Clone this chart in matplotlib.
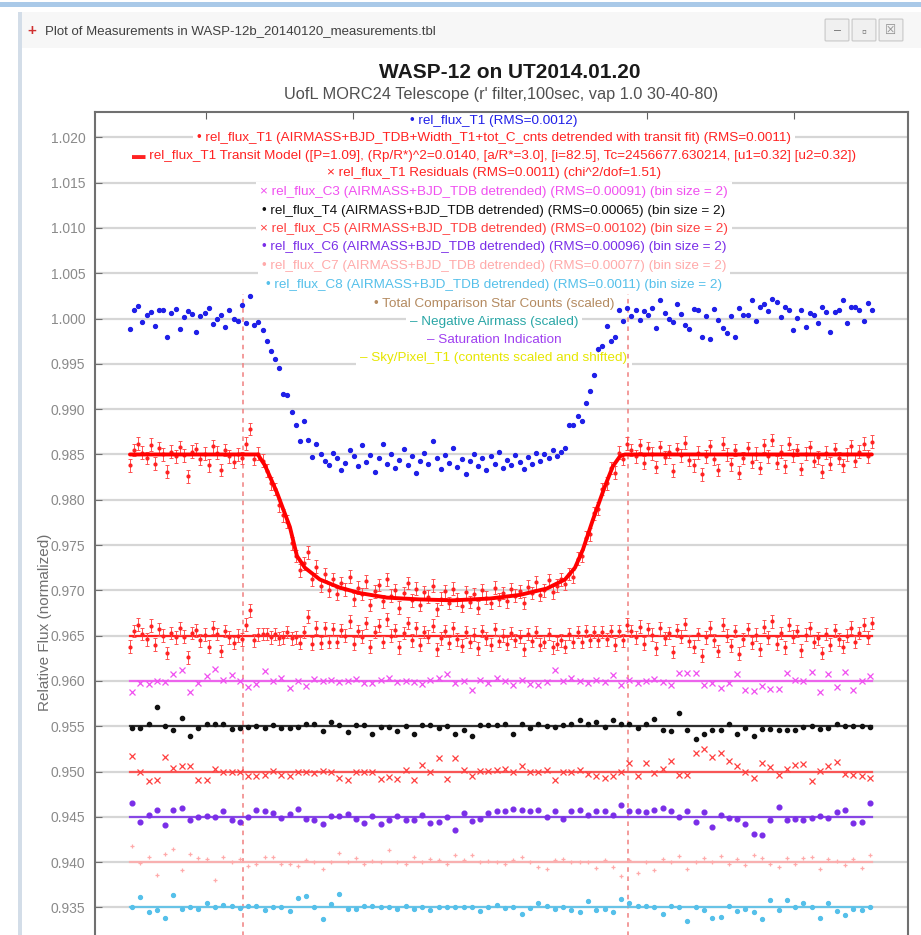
import numpy as np
import matplotlib
matplotlib.use("Agg")
import matplotlib.pyplot as plt
from matplotlib.patches import Rectangle, FancyBboxPatch

plt.rcParams['font.family'] = ['Liberation Sans', 'DejaVu Sans']

# ------------------------------------------------------------------ data
window_title = "Plot of Measurements in WASP-12b_20140120_measurements.tbl"
title = "WASP-12 on UT2014.01.20"
subtitle = "UofL MORC24 Telescope (r' filter,100sec, vap 1.0 30-40-80)"
y_label = "Relative Flux (normalized)"

x_ticks = [0.55, 0.60, 0.65, 0.70, 0.75]
y_ticks = [0.935, 0.940, 0.945, 0.950, 0.955, 0.960, 0.965, 0.970, 0.975,
           0.980, 0.985, 0.990, 0.995, 1.000, 1.005, 1.010, 1.015, 1.020]
y_tick_labels = ["0.935", "0.940", "0.945", "0.950", "0.955", "0.960", "0.965",
                 "0.970", "0.975", "0.980", "0.985", "0.990", "0.995", "1.000",
                 "1.005", "1.010", "1.015", "1.020"]

t_first, t_last = 0.5241, 0.7765          # unbinned exposures
tb_first, tb_last = 0.5248, 0.7758        # bin size = 2
marker_left, marker_right = 0.5625, 0.6935
marker_top = 1.0027

blue_flux = [
    0.9988, 1.0009, 1.0014, 0.9996, 1.0004, 1.0007, 0.9992, 1.0010, 1.0010, 0.9980,
    1.0006, 1.0011, 0.9989, 1.0002, 1.0008, 1.0005, 0.9985, 1.0003, 1.0006, 1.0012,
    0.9994, 1.0000, 1.0004, 0.9991, 1.0010, 1.0000, 0.9997, 1.0015, 0.9995, 1.0025,
    0.9993,
    0.9996, 0.9987, 0.9975, 0.9964, 0.9955, 0.9945, 0.9917, 0.9916, 0.9897, 0.9882,
    0.9865,
    0.9887, 0.9866, 0.9847, 0.9862, 0.9850, 0.9843, 0.9838, 0.9852, 0.9846, 0.9833,
    0.9841, 0.9855, 0.9848, 0.9837, 0.9860, 0.9842, 0.9849, 0.9831, 0.9846, 0.9862,
    0.9840, 0.9851, 0.9835, 0.9844, 0.9856, 0.9838, 0.9848, 0.9830, 0.9843, 0.9852,
    0.9839, 0.9865, 0.9846, 0.9834, 0.9849, 0.9841, 0.9857, 0.9836, 0.9845, 0.9828,
    0.9843, 0.9850, 0.9837, 0.9846, 0.9833, 0.9848, 0.9840, 0.9853, 0.9835, 0.9844,
    0.9838, 0.9849, 0.9842, 0.9834, 0.9847, 0.9839, 0.9852, 0.9843, 0.9850, 0.9846,
    0.9855, 0.9848, 0.9853, 0.9857,
    0.9882, 0.9882, 0.9892, 0.9887, 0.9907, 0.9920, 0.9938, 0.9966, 0.9970, 0.9992,
    0.9975, 0.9980, 1.0009, 0.9997, 1.0012,
    1.0003, 1.0010, 0.9998, 1.0008, 1.0004, 1.0012, 0.9990, 1.0020, 1.0006, 0.9999,
    0.9996, 1.0016, 1.0005, 0.9993, 0.9989, 1.0011, 1.0009, 0.9980, 1.0003, 0.9978,
    1.0011, 0.9998, 0.9990, 0.9984, 1.0003, 0.9980, 1.0012, 1.0004, 1.0004, 1.0020,
    0.9997, 1.0013, 1.0016, 1.0008, 1.0022, 1.0018, 1.0002, 1.0013, 1.0009, 0.9987,
    1.0001, 1.0010, 0.9991, 1.0006, 1.0004, 0.9995, 1.0013, 1.0007, 0.9985, 1.0007,
    1.0010, 1.0020, 0.9995, 1.0013, 1.0013, 1.0010, 0.9997, 1.0017, 1.0010,
]

det_flux = [
    0.9838, 0.9855, 0.9862, 0.9852, 0.9846, 0.9861, 0.9840, 0.9857, 0.9850, 0.9831,
    0.9853, 0.9848, 0.9858, 0.9849, 0.9826, 0.9853, 0.9856, 0.9845, 0.9851, 0.9838,
    0.9859, 0.9852, 0.9833, 0.9855, 0.9848, 0.9842, 0.9850, 0.9846, 0.9862, 0.9878,
    0.9845, 0.9851,
    0.9843, 0.9832, 0.9818, 0.9812, 0.9794, 0.9783, 0.9776, 0.9752, 0.9738, 0.9722,
    0.9730, 0.9742, 0.9712, 0.9726, 0.9705, 0.9718, 0.9700, 0.9712, 0.9696, 0.9708,
    0.9701, 0.9715, 0.9690, 0.9703, 0.9696, 0.9710, 0.9684, 0.9699, 0.9706, 0.9688,
    0.9712, 0.9694, 0.9700, 0.9681, 0.9697, 0.9708, 0.9689, 0.9702, 0.9684, 0.9698,
    0.9693, 0.9705, 0.9679, 0.9691, 0.9699, 0.9686, 0.9702, 0.9690, 0.9683, 0.9698,
    0.9687, 0.9696, 0.9681, 0.9700, 0.9692, 0.9686, 0.9703, 0.9690, 0.9697, 0.9688,
    0.9701, 0.9694, 0.9699, 0.9686, 0.9704, 0.9697, 0.9709, 0.9695, 0.9700, 0.9711,
    0.9698, 0.9705, 0.9712, 0.9707,
    0.9718, 0.9715, 0.9735, 0.9738, 0.9758, 0.9762, 0.9785, 0.9790, 0.9812, 0.9818,
    0.9835, 0.9830, 0.9852, 0.9845,
    0.9862, 0.9855, 0.9848, 0.9860, 0.9841, 0.9857, 0.9851, 0.9836, 0.9858, 0.9847,
    0.9853, 0.9832, 0.9856, 0.9849, 0.9863, 0.9844, 0.9838, 0.9852, 0.9828, 0.9848,
    0.9859, 0.9845, 0.9833, 0.9862, 0.9850, 0.9839, 0.9855, 0.9830, 0.9846, 0.9857,
    0.9842, 0.9851, 0.9835, 0.9860, 0.9848, 0.9866, 0.9841, 0.9853, 0.9837, 0.9862,
    0.9849, 0.9855, 0.9834, 0.9851, 0.9858, 0.9843, 0.9847, 0.9831, 0.9852, 0.9840,
    0.9856, 0.9846, 0.9838, 0.9850, 0.9859, 0.9843, 0.9853, 0.9862, 0.9848, 0.9864,
]
det_err = 0.0007

model_t = [0.5241, 0.5676, 0.5700, 0.5741, 0.5785, 0.5809, 0.5836, 0.5887,
           0.5955, 0.6023, 0.6115, 0.6227, 0.6340, 0.6466, 0.6568, 0.6659,
           0.6721, 0.6755, 0.6782, 0.6816, 0.6857, 0.6884, 0.6908, 0.6925, 0.7765]
model_f = [0.9850, 0.9850, 0.9838, 0.9808, 0.9770, 0.9738, 0.9725, 0.9712,
           0.9703, 0.9697, 0.9692, 0.9690, 0.9689, 0.9691, 0.9695, 0.9702,
           0.9712, 0.9725, 0.9745, 0.9778, 0.9815, 0.9837, 0.9848, 0.9850, 0.9850]

resid_flux = [
    0.9638, 0.9655, 0.9662, 0.9652, 0.9646, 0.9661, 0.9640, 0.9657, 0.9650, 0.9631,
    0.9653, 0.9648, 0.9658, 0.9649, 0.9626, 0.9653, 0.9656, 0.9645, 0.9651, 0.9638,
    0.9659, 0.9652, 0.9633, 0.9655, 0.9648, 0.9642, 0.9650, 0.9646, 0.9662, 0.9678,
    0.9645, 0.9651,
    0.9652, 0.9652, 0.9648, 0.9652, 0.9647, 0.9648, 0.9654, 0.9647, 0.9648, 0.9642,
    0.9654, 0.9671, 0.9641, 0.9659, 0.9642, 0.9658, 0.9643, 0.9657, 0.9643, 0.9656,
    0.9650, 0.9666, 0.9641, 0.9655, 0.9649, 0.9664, 0.9638, 0.9654, 0.9661, 0.9643,
    0.9668, 0.9650, 0.9656, 0.9637, 0.9653, 0.9664, 0.9645, 0.9658, 0.9640, 0.9654,
    0.9649, 0.9661, 0.9635, 0.9647, 0.9655, 0.9642, 0.9658, 0.9646, 0.9639, 0.9654,
    0.9643, 0.9651, 0.9636, 0.9655, 0.9647, 0.9640, 0.9657, 0.9644, 0.9650, 0.9641,
    0.9653, 0.9645, 0.9649, 0.9635, 0.9652, 0.9644, 0.9654, 0.9640, 0.9643, 0.9652,
    0.9637, 0.9641, 0.9645, 0.9638,
    0.9652, 0.9643, 0.9654, 0.9643, 0.9655, 0.9645, 0.9654, 0.9645, 0.9654, 0.9646,
    0.9655, 0.9640, 0.9655, 0.9645,
    0.9662, 0.9655, 0.9648, 0.9660, 0.9641, 0.9657, 0.9651, 0.9636, 0.9658, 0.9647,
    0.9653, 0.9632, 0.9656, 0.9649, 0.9663, 0.9644, 0.9638, 0.9652, 0.9628, 0.9648,
    0.9659, 0.9645, 0.9633, 0.9662, 0.9650, 0.9639, 0.9655, 0.9630, 0.9646, 0.9657,
    0.9642, 0.9651, 0.9635, 0.9660, 0.9648, 0.9666, 0.9641, 0.9653, 0.9637, 0.9662,
    0.9649, 0.9655, 0.9634, 0.9651, 0.9658, 0.9643, 0.9647, 0.9631, 0.9652, 0.9640,
    0.9656, 0.9646, 0.9638, 0.9650, 0.9659, 0.9643, 0.9653, 0.9662, 0.9648, 0.9664,
]
resid_err = 0.0007
resid_level = 0.965

c3_flux = [
    0.9588, 0.9598, 0.9597, 0.9600, 0.9599, 0.9608, 0.9612, 0.9588, 0.9598, 0.9606,
    0.9613, 0.9601, 0.9607, 0.9600, 0.9593, 0.9597, 0.9611, 0.9600, 0.9603, 0.9592,
    0.9600, 0.9594, 0.9602, 0.9600, 0.9601, 0.9599, 0.9600, 0.9602, 0.9598, 0.9598,
    0.9601, 0.9603, 0.9599, 0.9600, 0.9599, 0.9597, 0.9601, 0.9603, 0.9608, 0.9598,
    0.9600, 0.9590, 0.9601, 0.9598, 0.9603, 0.9600, 0.9596, 0.9601, 0.9597, 0.9595,
    0.9599, 0.9612, 0.9600, 0.9603, 0.9600, 0.9598, 0.9601, 0.9599, 0.9607, 0.9596,
    0.9601, 0.9598, 0.9600, 0.9602, 0.9599, 0.9595, 0.9609, 0.9609, 0.9609, 0.9595,
    0.9598, 0.9592, 0.9598, 0.9608, 0.9590, 0.9589, 0.9594, 0.9591, 0.9591, 0.9609,
    0.9601, 0.9600, 0.9610, 0.9588, 0.9608, 0.9593, 0.9610, 0.9590, 0.9600, 0.9606,
]
t4_flux = [
    0.9548, 0.9548, 0.9552, 0.9571, 0.9550, 0.9546, 0.9559, 0.9539, 0.9548, 0.9553,
    0.9553, 0.9553, 0.9547, 0.9548, 0.9549, 0.9550, 0.9548, 0.9551, 0.9548, 0.9548,
    0.9549, 0.9552, 0.9552, 0.9545, 0.9555, 0.9551, 0.9544, 0.9551, 0.9551, 0.9541,
    0.9549, 0.9549, 0.9545, 0.9550, 0.9541, 0.9551, 0.9551, 0.9548, 0.9550, 0.9542,
    0.9546, 0.9539, 0.9551, 0.9551, 0.9551, 0.9552, 0.9541, 0.9553, 0.9548, 0.9553,
    0.9550, 0.9549, 0.9551, 0.9552, 0.9557, 0.9553, 0.9555, 0.9549, 0.9557, 0.9553,
    0.9552, 0.9548, 0.9552, 0.9558, 0.9546, 0.9545, 0.9565, 0.9546, 0.9536, 0.9541,
    0.9546, 0.9546, 0.9552, 0.9541, 0.9548, 0.9539, 0.9547, 0.9547, 0.9546, 0.9546,
    0.9546, 0.9549, 0.9550, 0.9547, 0.9548, 0.9553, 0.9550, 0.9550, 0.9550, 0.9549,
]
c5_flux = [
    0.9517, 0.9499, 0.9490, 0.9491, 0.9516, 0.9504, 0.9506, 0.9506, 0.9491, 0.9491,
    0.9503, 0.9500, 0.9499, 0.9500, 0.9495, 0.9495, 0.9496, 0.9501, 0.9496, 0.9495,
    0.9500, 0.9500, 0.9498, 0.9501, 0.9499, 0.9493, 0.9491, 0.9500, 0.9499, 0.9499,
    0.9492, 0.9494, 0.9492, 0.9502, 0.9491, 0.9507, 0.9500, 0.9515, 0.9492, 0.9515,
    0.9502, 0.9495, 0.9501, 0.9501, 0.9502, 0.9503, 0.9500, 0.9506, 0.9500, 0.9500,
    0.9502, 0.9491, 0.9500, 0.9499, 0.9502, 0.9497, 0.9495, 0.9493, 0.9495, 0.9500,
    0.9509, 0.9495, 0.9510, 0.9498, 0.9503, 0.9512, 0.9496, 0.9496, 0.9520, 0.9525,
    0.9516, 0.9520, 0.9512, 0.9506, 0.9499, 0.9493, 0.9510, 0.9505, 0.9496, 0.9503,
    0.9507, 0.9508, 0.9490, 0.9501, 0.9506, 0.9511, 0.9497, 0.9496, 0.9495, 0.9493,
]
c6_flux = [
    0.9465, 0.9444, 0.9452, 0.9458, 0.9441, 0.9458, 0.9460, 0.9447, 0.9450, 0.9451,
    0.9450, 0.9457, 0.9446, 0.9444, 0.9450, 0.9458, 0.9457, 0.9454, 0.9449, 0.9453,
    0.9459, 0.9448, 0.9447, 0.9442, 0.9451, 0.9451, 0.9453, 0.9448, 0.9443, 0.9451,
    0.9442, 0.9446, 0.9451, 0.9446, 0.9446, 0.9452, 0.9443, 0.9444, 0.9450, 0.9435,
    0.9454, 0.9445, 0.9448, 0.9454, 0.9456, 0.9457, 0.9459, 0.9458, 0.9456, 0.9458,
    0.9450, 0.9456, 0.9448, 0.9457, 0.9458, 0.9452, 0.9457, 0.9456, 0.9452, 0.9463,
    0.9456, 0.9456, 0.9455, 0.9458, 0.9460, 0.9456, 0.9450, 0.9456, 0.9444, 0.9455,
    0.9439, 0.9452, 0.9449, 0.9448, 0.9442, 0.9431, 0.9430, 0.9447, 0.9461, 0.9447,
    0.9448, 0.9446, 0.9449, 0.9451, 0.9449, 0.9455, 0.9458, 0.9443, 0.9444, 0.9465,
]
c7_flux = [
    0.9418, 0.9399, 0.9406, 0.9386, 0.9409, 0.9415, 0.9391, 0.9409, 0.9405, 0.9404,
    0.9380, 0.9406, 0.9400, 0.9404, 0.9396, 0.9398, 0.9406, 0.9406, 0.9398, 0.9398,
    0.9396, 0.9402, 0.9400, 0.9393, 0.9400, 0.9410, 0.9400, 0.9405, 0.9398, 0.9401,
    0.9400, 0.9413, 0.9400, 0.9398, 0.9406, 0.9400, 0.9404, 0.9402, 0.9398, 0.9408,
    0.9402, 0.9408, 0.9400, 0.9401, 0.9400, 0.9398, 0.9402, 0.9406, 0.9400, 0.9395,
    0.9393, 0.9402, 0.9404, 0.9400, 0.9400, 0.9400, 0.9394, 0.9402, 0.9395, 0.9385,
    0.9402, 0.9388, 0.9400, 0.9391, 0.9403, 0.9400, 0.9407, 0.9392, 0.9400, 0.9405,
    0.9400, 0.9407, 0.9398, 0.9404, 0.9397, 0.9408, 0.9405, 0.9398, 0.9395, 0.9405,
    0.9398, 0.9405, 0.9406, 0.9393, 0.9404, 0.9401, 0.9397, 0.9403, 0.9394, 0.9408,
]
c8_flux = [
    0.9350, 0.9362, 0.9345, 0.9347, 0.9338, 0.9364, 0.9348, 0.9351, 0.9348, 0.9355,
    0.9350, 0.9353, 0.9352, 0.9349, 0.9352, 0.9352, 0.9347, 0.9351, 0.9350, 0.9346,
    0.9360, 0.9363, 0.9350, 0.9337, 0.9354, 0.9365, 0.9348, 0.9348, 0.9352, 0.9352,
    0.9350, 0.9350, 0.9348, 0.9352, 0.9348, 0.9350, 0.9347, 0.9350, 0.9350, 0.9350,
    0.9351, 0.9351, 0.9346, 0.9350, 0.9353, 0.9349, 0.9350, 0.9343, 0.9349, 0.9355,
    0.9352, 0.9348, 0.9350, 0.9347, 0.9345, 0.9357, 0.9347, 0.9348, 0.9345, 0.9359,
    0.9355, 0.9352, 0.9352, 0.9350, 0.9343, 0.9352, 0.9350, 0.9335, 0.9350, 0.9347,
    0.9338, 0.9340, 0.9352, 0.9346, 0.9348, 0.9345, 0.9337, 0.9358, 0.9347, 0.9358,
    0.9350, 0.9355, 0.9350, 0.9338, 0.9355, 0.9346, 0.9342, 0.9348, 0.9347, 0.9350,
]
comp_levels = [0.960, 0.955, 0.950, 0.945, 0.940, 0.935]

legend_labels = [
    "rel_flux_T1 (RMS=0.0012)",
    "rel_flux_T1 (AIRMASS+BJD_TDB+Width_T1+tot_C_cnts detrended with transit fit) (RMS=0.0011)",
    "rel_flux_T1 Transit Model ([P=1.09], (Rp/R*)^2=0.0140, [a/R*=3.0], [i=82.5], Tc=2456677.630214, [u1=0.32] [u2=0.32])",
    "rel_flux_T1 Residuals (RMS=0.0011) (chi^2/dof=1.51)",
    "rel_flux_C3 (AIRMASS+BJD_TDB detrended) (RMS=0.00091) (bin size = 2)",
    "rel_flux_T4 (AIRMASS+BJD_TDB detrended) (RMS=0.00065) (bin size = 2)",
    "rel_flux_C5 (AIRMASS+BJD_TDB detrended) (RMS=0.00102) (bin size = 2)",
    "rel_flux_C6 (AIRMASS+BJD_TDB detrended) (RMS=0.00096) (bin size = 2)",
    "rel_flux_C7 (AIRMASS+BJD_TDB detrended) (RMS=0.00077) (bin size = 2)",
    "rel_flux_C8 (AIRMASS+BJD_TDB detrended) (RMS=0.0011) (bin size = 2)",
    "Total Comparison Star Counts (scaled)",
    "Negative Airmass (scaled)",
    "Saturation Indication",
    "Sky/Pixel_T1 (contents scaled and shifted)",
]
legend_symbols = ["•", "•", "▬", "×", "×", "•", "×", "•", "•", "•", "•", "–", "–", "–"]

# ------------------------------------------------------------------ styles
C_BLUE = "#1f1fe8"
C_RED = "#ff2222"
C_MAG = "#f050f0"
C_BLACK = "#111111"
C_RED2 = "#ff4040"
C_PURP = "#7a2ee8"
C_PINK = "#ffaaaa"
C_LBLUE = "#55c0ea"
legend_colors = [C_BLUE, C_RED, C_RED, C_RED, C_MAG, C_BLACK, C_RED2, C_PURP,
                 C_PINK, C_LBLUE, "#b48a60", "#2aa6a6", "#a040f0", "#e6e600"]

W, H = 921, 935
fig = plt.figure(figsize=(W / 100, H / 100), dpi=100)
fig.patch.set_facecolor("white")


def fx(x):
    return x / W


def fy(y):
    return 1 - y / H


def frect(x0, y0, x1, y1, **kw):
    fig.add_artist(Rectangle((fx(x0), fy(y1)), fx(x1) - fx(x0), fy(y0) - fy(y1),
                             transform=fig.transFigure, **kw))


# window chrome
frect(0, 2, W, 7, facecolor="#a9c9e8", edgecolor="none")
frect(20, 12, W, 48, facecolor="#f7f7f7", edgecolor="none")
frect(18, 12, 22, H, facecolor="#d3dde8", edgecolor="none")
fig.text(fx(32), fy(31), "+", color="#d03030", fontsize=11, ha="center", va="center",
         fontweight="bold")
fig.text(fx(45), fy(31), window_title, color="#404040", fontsize=9.5, ha="left",
         va="center")
for bx in (826, 853, 880):
    fig.add_artist(FancyBboxPatch((fx(bx), fy(40)), fx(22), 20 / H,
                                  boxstyle="round,pad=0.001", transform=fig.transFigure,
                                  facecolor="#f0f0f0", edgecolor="#c8c8c8", lw=0.8))
fig.text(fx(837), fy(31), "–", color="#707070", fontsize=9, ha="center", va="center")
fig.text(fx(864), fy(31), "▫", color="#707070", fontsize=10, ha="center", va="center")
fig.text(fx(891), fy(31), "☒", color="#909090", fontsize=9, ha="center", va="center")

fig.text(fx(510), fy(73), title, fontsize=15, fontweight="bold", color="#1a1a1a",
         ha="center", va="center")
fig.text(fx(501), fy(95), subtitle, fontsize=11.8, color="#505050",
         ha="center", va="center")

# axes: bottom part lies below the visible window
ax_left, ax_right, ax_top = 95, 908, 112
y_min, y_max = 0.925, 1.0228
px_per_unit = 45.3 / 0.005
ax_bottom_px = ax_top + (y_max - y_min) * px_per_unit
ax = fig.add_axes([fx(ax_left), fy(ax_bottom_px), fx(ax_right - ax_left),
                   (ax_bottom_px - ax_top) / H])
ax.set_xlim(0.5122, 0.7888)
ax.set_ylim(y_min, y_max)
ax.set_facecolor("white")

ax.set_yticks(y_ticks)
ax.set_yticklabels(y_tick_labels)
ax.set_xticks(x_ticks)
ax.xaxis.tick_top()
ax.tick_params(axis="x", direction="in", length=5, color="#606060", labeltop=False,
               labelbottom=False, top=True, bottom=False)
ax.tick_params(axis="y", direction="in", length=5, color="#707070", labelsize=10,
               labelcolor="#8a8a8a", pad=7, right=False)
ax.yaxis.grid(True, color="#d6d6d6", lw=1.6)
ax.set_axisbelow(True)
for s in ax.spines.values():
    s.set_color("#707070")
    s.set_linewidth(1.5)
fig.text(fx(45), fy(622), y_label, fontsize=11, color="#707070", rotation=90,
         ha="center", va="center")

t = np.linspace(t_first, t_last, len(blue_flux))
t_det = np.linspace(t_first, t_last, len(det_flux))
t_res = np.linspace(t_first, t_last, len(resid_flux))

# legend lines (centred text with white background, above grid, below data)
leg_y = [121, 138, 156, 173, 192, 211, 229, 247, 266, 285, 304, 322, 340, 358]
for lab, sym, col, yy in zip(legend_labels, legend_symbols, legend_colors, leg_y):
    ax.text(fx(494), fy(yy), sym + " " + lab, color=col, fontsize=9.7,
            ha="center", va="center", zorder=1.5, transform=fig.transFigure,
            clip_on=False,
            bbox=dict(boxstyle="square,pad=0.3", facecolor="white", edgecolor="none"))

# marker lines
for xm in (marker_left, marker_right):
    ax.plot([xm, xm], [y_min, marker_top], color="#f08080", lw=1.1,
            ls=(0, (3, 3)), zorder=2)

# comparison stars
comp_sets = [
    (c3_flux, C_MAG, "x", 4.0, 0.9),
    (t4_flux, C_BLACK, "o", 3.0, 0),
    (c5_flux, C_RED2, "x", 4.0, 0.9),
    (c6_flux, C_PURP, "o", 3.4, 0),
    (c7_flux, C_PINK, "+", 3.5, 0.9),
    (c8_flux, C_LBLUE, "o", 2.8, 0),
]
for (vals, col, mk, ms, mew), lvl in zip(comp_sets, comp_levels):
    ax.plot([t_first, t_last], [lvl, lvl], color=col, lw=1.6, zorder=3, alpha=0.85)
    tb_i = np.linspace(tb_first, tb_last, len(vals))
    if mk == "o":
        ax.plot(tb_i, vals, ls="none", marker="o", ms=ms, color=col, mec=col, zorder=4)
    else:
        ax.plot(tb_i, vals, ls="none", marker=mk, ms=ms, mew=mew, color=col, zorder=4)

# residuals
ax.plot([t_first, t_last], [resid_level, resid_level], color=C_RED, lw=1.6, zorder=3)
ax.errorbar(t_res, resid_flux, yerr=resid_err, fmt="o", ms=2.0, color=C_RED,
            ecolor="#ff5050", elinewidth=0.7, capsize=1.5, capthick=0.7, zorder=4)

# detrended data + model
ax.errorbar(t_det, det_flux, yerr=det_err, fmt="o", ms=2.0, color=C_RED,
            ecolor="#ff5050", elinewidth=0.7, capsize=1.5, capthick=0.7, zorder=4)
ax.plot(model_t, model_f, color="#ff0000", lw=2.8, zorder=5, solid_capstyle="round")

# raw target
ax.plot(t, blue_flux, ls="none", marker="o", ms=2.8, color=C_BLUE, zorder=6)

fig.savefig("out.png", dpi=100, facecolor="white")
